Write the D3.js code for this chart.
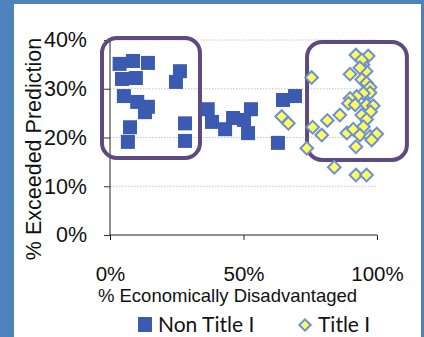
<!DOCTYPE html>
<html>
<head>
<meta charset="utf-8">
<script src="https://cdn.jsdelivr.net/npm/d3@7"></script>
<style>
  html, body { margin: 0; padding: 0; background: #4f81bd; }
  svg { display: block; }
</style>
</head>
<body>
<svg id="chart" width="424" height="337"></svg>
<script>
// % Economically Disadvantaged vs % Exceeded Prediction
const nonTitleI = [
  [14.2, 35.3], [8.6, 35.7], [3.6, 35.1], [4.5, 32.0], [9.7, 32.2],
  [26.2, 33.6], [24.7, 31.4], [5.2, 28.5], [10.2, 27.3], [14.2, 26.3],
  [13.1, 25.2], [7.5, 22.1], [6.7, 19.1], [28.1, 22.9], [28.1, 19.3],
  [36.6, 25.8], [38.2, 23.2], [43.1, 21.7], [46.1, 24.0], [50.2, 23.6],
  [52.8, 25.8], [51.7, 20.9], [64.8, 27.7], [69.3, 28.5], [62.9, 18.9]
];
const titleI = [
  [64.3, 24.3], [66.8, 22.9], [75.5, 32.3], [73.7, 17.8], [75.9, 22.1],
  [79.3, 20.5], [81.4, 23.5], [86.1, 24.6], [84.0, 13.9], [88.7, 20.9],
  [91.1, 21.7], [89.9, 33.0], [92.1, 36.9], [96.7, 36.7], [94.8, 34.9],
  [95.9, 33.6], [94.3, 31.9], [96.1, 31.2], [97.4, 30.3], [97.4, 29.2],
  [94.9, 29.1], [92.4, 28.4], [89.9, 28.0], [89.3, 27.0], [91.8, 26.7],
  [96.1, 26.7], [98.6, 26.5], [97.6, 25.3], [94.3, 24.6], [96.1, 23.7],
  [94.9, 22.2], [93.6, 20.5], [97.4, 20.2], [99.9, 20.7], [98.0, 19.5],
  [92.1, 18.1], [92.1, 12.3], [96.1, 12.3], [94.3, 35.9], [93.6, 34.3]
];
const xTicks = [0, 50, 100];
const yTicks = [0, 10, 20, 30, 40];
// highlighted groups: [x0, x1, yTop, yBottom]
const groupBoxes = [
  [-3.0, 33.7, 40.4, 15.8],
  [73.8, 111.2, 39.6, 15.4]
];
const seriesNames = ["Non Title I", "Title I"];

const svg = d3.select("#chart");
const font = "'Liberation Sans', Arial, sans-serif";

// panel
svg.append("rect").attr("width", 424).attr("height", 337).attr("fill", "#4f81bd");
svg.append("rect").attr("x", 14).attr("y", 4).attr("width", 407).attr("height", 333).attr("fill", "#ffffff");

const x = d3.scaleLinear().domain([0, 100]).range([110, 377]);
const y = d3.scaleLinear().domain([0, 40]).range([235, 40]);

// gridlines
svg.append("g").selectAll("line").data(yTicks.filter(d => d > 0)).join("line")
  .attr("x1", x(0)).attr("x2", x(100))
  .attr("y1", d => y(d)).attr("y2", d => y(d))
  .attr("stroke", "#c4c4c4").attr("stroke-width", 1)
  .attr("stroke-dasharray", "1.5,1.5");

// y axis
const yAxis = svg.append("g").attr("transform", `translate(${x(0)},0)`)
  .call(d3.axisLeft(y).tickValues(yTicks).tickSize(6).tickPadding(17)
    .tickFormat(d => d + "%"));
yAxis.select(".domain").attr("stroke", "#222").attr("d", `M0,${y(0)}V${y(40)}`);
yAxis.selectAll(".tick line").attr("stroke", "#333");
yAxis.selectAll(".tick text").attr("font-family", font).attr("font-size", 21.5)
  .attr("fill", "#111");

// x axis
const xAxis = svg.append("g").attr("transform", `translate(0,${y(0)})`)
  .call(d3.axisBottom(x).tickValues(xTicks).tickSize(5).tickPadding(26)
    .tickFormat(d => d + "%"));
xAxis.select(".domain").attr("stroke", "#222").attr("d", `M${x(0)},0H${x(100)}`);
xAxis.selectAll(".tick line").attr("stroke", "#222");
xAxis.selectAll(".tick text").attr("font-family", font).attr("font-size", 20.5)
  .attr("fill", "#111");

// axis titles
svg.append("text")
  .attr("x", (x(0) + x(100)) / 2 - 16).attr("y", 302)
  .attr("text-anchor", "middle").attr("font-family", font).attr("font-size", 18.5)
  .attr("fill", "#111").text("% Economically Disadvantaged");

svg.append("text")
  .attr("transform", "translate(41,149) rotate(-90)")
  .attr("text-anchor", "middle").attr("font-family", font).attr("font-size", 21.5)
  .attr("fill", "#111").text("% Exceeded Prediction");

// group outlines
svg.append("g").selectAll("rect").data(groupBoxes).join("rect")
  .attr("x", d => x(d[0])).attr("y", d => y(d[2]))
  .attr("width", d => x(d[1]) - x(d[0])).attr("height", d => y(d[3]) - y(d[2]))
  .attr("rx", 15).attr("ry", 15)
  .attr("fill", "none").attr("stroke", "#5e4a7e").attr("stroke-width", 4);

// Non Title I squares
const sq = 14;
svg.append("g").selectAll("rect").data(nonTitleI).join("rect")
  .attr("x", d => x(d[0]) - sq / 2).attr("y", d => y(d[1]) - sq / 2)
  .attr("width", sq).attr("height", sq)
  .attr("fill", "#3a5bb1");

// Title I diamonds
const diamond = d3.symbol().type(d3.symbolSquare).size(80);
svg.append("g").selectAll("path").data(titleI).join("path")
  .attr("d", diamond)
  .attr("transform", d => `translate(${x(d[0])},${y(d[1])}) rotate(45)`)
  .attr("fill", "#ffff59").attr("stroke", "#6d8fd8").attr("stroke-width", 2);

// legend
const legendFont = "Lato, 'Open Sans', sans-serif";
svg.append("rect").attr("x", 138).attr("y", 317).attr("width", 14).attr("height", 15)
  .attr("fill", "#3a5bb1");
svg.append("text").attr("x", 158).attr("y", 332)
  .attr("font-family", legendFont).attr("font-size", 21).attr("fill", "#111")
  .text(seriesNames[0]);
svg.append("path").attr("d", d3.symbol().type(d3.symbolSquare).size(64)())
  .attr("transform", "translate(305,325) rotate(45)")
  .attr("fill", "#ffff59").attr("stroke", "#6d8fd8").attr("stroke-width", 2);
svg.append("text").attr("x", 318).attr("y", 332)
  .attr("font-family", legendFont).attr("font-size", 21).attr("fill", "#111")
  .text(seriesNames[1]);
</script>
</body>
</html>
